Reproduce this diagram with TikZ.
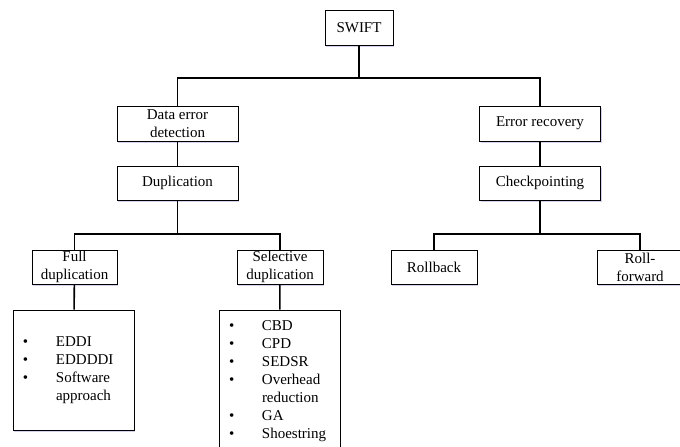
\documentclass[tikz,border=0pt]{standalone}
\usepackage{fontspec}
\setmainfont{Liberation Serif}
\usetikzlibrary{shadows}

\begin{document}
\begin{tikzpicture}[x=1pt,y=-1pt,
    box/.style={draw,line width=0.9pt,fill=white,minimum height=35pt,inner sep=1pt,align=center,
      font=\fontsize{15}{18}\selectfont,
      drop shadow={shadow xshift=1.2pt,shadow yshift=-1.5pt,opacity=0.25,fill=blue!40!gray}},
    listbox/.style={box,inner xsep=10pt,text width=101pt,minimum width=121pt,align=left},
    conn/.style={line width=1.6pt}]
      \path[use as bounding box,clip] (0,0) rectangle (680,447);
      \node[box,minimum width=68pt] (swift) at (359,27.5) {SWIFT};
      \node[box,minimum width=121pt] (detect) at (177.5,123.5) {Data error\\detection};
      \node[box,minimum width=121pt] (recover) at (540,123.5) {Error recovery};
      \node[box,minimum width=121pt,minimum height=34pt] (dup) at (177.5,183) {Duplication};
      \node[box,minimum width=121pt,minimum height=34pt] (ckpt) at (540,183) {Checkpointing};
      \node[box,minimum width=85pt,minimum height=34pt] (fulldup) at (74.5,267) {Full\\duplication};
      \node[box,minimum width=86pt,minimum height=34pt] (seldup) at (280,267) {Selective\\duplication};
      \node[box,minimum width=86pt,minimum height=34pt] (rollback) at (434,267) {Rollback};
      \node[box,minimum width=86pt,minimum height=34pt] (rollfwd) at (640,267) {Roll-\\forward};
      \node[listbox,minimum height=120pt] (fulllist) at (73.5,370) {%
        \begin{tabular}{@{}p{21pt}l@{}}
          \textbullet & EDDI\\
          \textbullet & EDDDDI\\
          \textbullet & Software\\
                      & approach
        \end{tabular}};
      \node[listbox,minimum height=142pt] (sellist) at (279.5,381) {%
        \begin{tabular}{@{}p{21pt}l@{}}
          \textbullet & CBD\\
          \textbullet & CPD\\
          \textbullet & SEDSR\\
          \textbullet & Overhead\\
                      & reduction\\
          \textbullet & GA\\
          \textbullet & Shoestring
        \end{tabular}};
      % junctions of the tree
      \coordinate (j1) at (359,78);
      \coordinate (j2) at (177.5,234);
      \coordinate (j3) at (540,234);
      \draw[conn] (swift) -- (j1);
      \draw[conn] (detect.north) |- (j1) -| (recover.north);
      \draw[conn] (detect) -- (dup);
      \draw[conn] (recover) -- (ckpt);
      \draw[conn] (dup) -- (j2);
      \draw[conn] (fulldup.north) |- (j2) -| (seldup.north);
      \draw[conn] (ckpt) -- (j3);
      \draw[conn] (rollback.north) |- (j3) -| (rollfwd.north);
      \draw[conn] (fulldup) -- (fulllist);
      \draw[conn] (seldup) -- (sellist);
    \end{tikzpicture}
\end{document}
